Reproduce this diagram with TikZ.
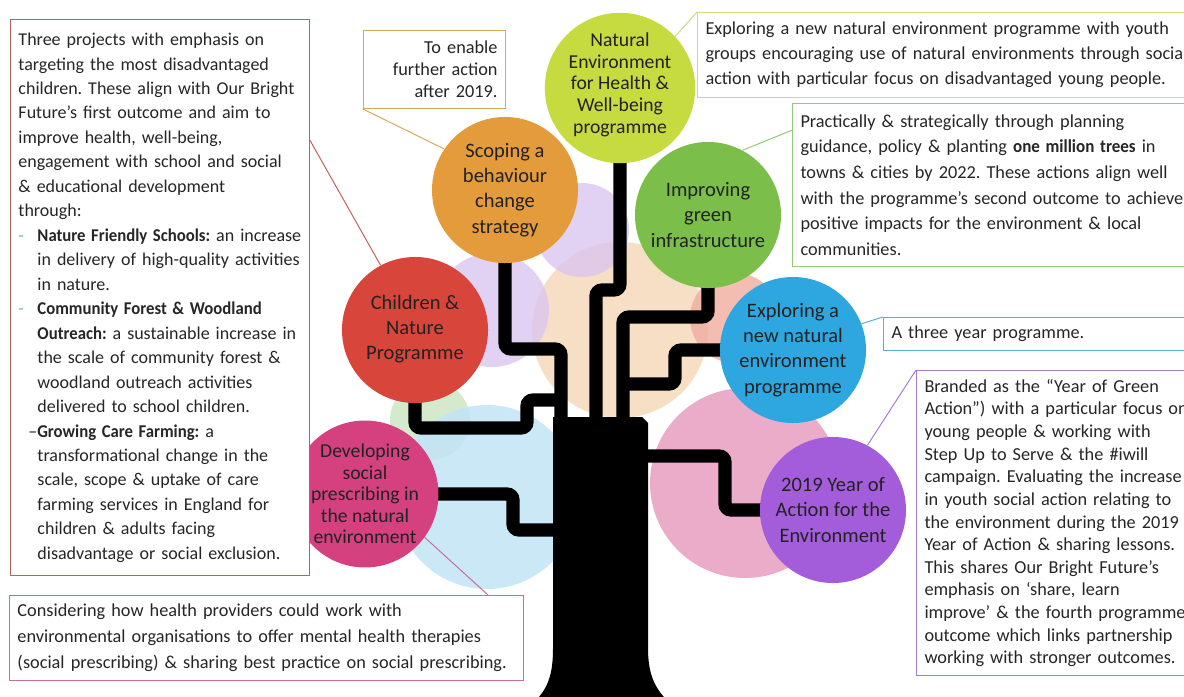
\documentclass[tikz,border=0pt]{standalone}
\usepackage{fontspec}
\setmainfont{Carlito}
\usepackage{xcolor}
\usepackage{graphicx}
\usetikzlibrary{calc}
\frenchspacing

\definecolor{lime_fill}{HTML}{C5DB3F}
\definecolor{orange_fill}{HTML}{E49B3C}
\definecolor{green_fill}{HTML}{7BBF4A}
\definecolor{red_fill}{HTML}{D8453A}
\definecolor{blue_fill}{HTML}{2EA7E0}
\definecolor{magenta_fill}{HTML}{D5407F}
\definecolor{purple_fill}{HTML}{A35DDB}

\definecolor{peach_fill}{HTML}{F6DCBF}
\definecolor{lavender_fill}{HTML}{DAC5EF}
\definecolor{salmon_fill}{HTML}{F0AE9E}
\definecolor{pink_fill}{HTML}{E9A3C4}
\definecolor{sky_fill}{HTML}{C2E4F6}
\definecolor{mint_fill}{HTML}{D0E8C8}

\definecolor{left_line}{HTML}{B8625E}
\definecolor{enable_line}{HTML}{D9A45B}
\definecolor{youth_line}{HTML}{C8DC84}
\definecolor{trees_line}{HTML}{94C978}
\definecolor{three_line}{HTML}{5AAFD2}
\definecolor{branded_line}{HTML}{A67BD3}
\definecolor{prescribing_line}{HTML}{C86B9E}
\definecolor{dash_teal}{HTML}{6FB7C9}
\definecolor{note_text}{HTML}{262626}
\definecolor{bubble_text}{HTML}{222222}

% bold terms, a little narrower
\newcommand{\keyterm}[1]{\textbf{\scalebox{0.93}[1]{#1}}}

\pgfdeclarelayer{back}
\pgfdeclarelayer{mid}
\pgfsetlayers{back,mid,main}

\begin{document}
\begin{tikzpicture}[x=0.025cm, y=-0.025cm,
    every node/.style={
        font=\fontsize{13pt}{17.4pt}\selectfont,
        text=note_text
    },
    bubble/.style={
        circle,
        minimum size=3.65cm,
        inner sep=0pt,
        align=center,
        text=bubble_text,
        font=\fontsize{14.6pt}{17.9pt}\selectfont
    },
    note/.style={
        rectangle,
        draw,
        fill=white,
        line width=0.7pt,
        anchor=north west,
        inner xsep=0.2cm,
        inner ysep=0pt,
        align=left
    },
    branch/.style={line width=0.33cm, rounded corners=0.15cm},
    leader/.style={line width=0.7pt}
]
    \useasboundingbox (0,0) rectangle (1184,697);
    \clip (0,0) rectangle (1184,697);

    % the coloured blobs behind the tree
    \begin{pgfonlayer}{back}
        \fill[peach_fill, fill opacity=0.9] (620,330) circle[radius=88];
        \fill[lavender_fill, fill opacity=0.8] (582,230) circle[radius=47];
        \fill[lavender_fill, fill opacity=0.8] (492,310) circle[radius=57];
        \fill[salmon_fill, fill opacity=0.8] (735,318) circle[radius=45];
        \fill[mint_fill, fill opacity=0.9] (430,420) circle[radius=40];
        \fill[sky_fill, fill opacity=0.85] (487,497) circle[radius=92];
        \fill[pink_fill, fill opacity=0.9] (745,483) circle[radius=95];
    \end{pgfonlayer}

    \node (nature_health) [bubble, fill=lime_fill, shift={(620,88)}, font=\fontsize{14pt}{15.4pt}\selectfont]
    {
        Natural\\Environment\\for Health \&\\Well-being\\programme\\[-8.2pt]
    };

    \node (behaviour_strategy) [bubble, fill=orange_fill, shift={(505,190)}]
    {
        Scoping a\\behaviour\\change\\strategy
    };

    \node (green_infra) [bubble, fill=green_fill, shift={(708,215)}]
    {
        Improving\\green\\infrastructure
    };

    \node (children_nature) [bubble, fill=red_fill, shift={(415,330)}]
    {
        Children \&\\Nature\\Programme\\[-13.7pt]
    };

    \node (new_programme) [bubble, fill=blue_fill, shift={(793,350)}]
    {
        Exploring a\\new natural\\environment\\programme
    };

    \node (social_prescribing) [bubble, fill=magenta_fill, shift={(365,494)}, font=\fontsize{14pt}{15.3pt}\selectfont]
    {
        Developing\\social\\prescribing in\\the natural\\environment
    };

    \node (year_of_action) [bubble, fill=purple_fill, shift={(833,510)}]
    {
        2019 Year of\\Action for the\\Environment
    };

    % tree: trunk and branches
    \begin{pgfonlayer}{mid}
        \fill (553,417) -- (553,648) .. controls (553,675) and (548,690) .. (531,705)
            -- (672,705) .. controls (655,690) and (648,675) .. (648,648)
            -- (648,423) -- (642,417) -- cycle;

        \draw[branch] (nature_health.center) |- (596,290) -- (596,425);
        \draw[branch] (green_infra.center) |- (623,317) -- (623,425);
        \draw[branch] (new_programme.center) -| (675,384) -- (623,384);
        \draw[branch] (behaviour_strategy.center) |- (561,349) -- (561,425);
        \draw[branch] (children_nature.center) |- (527,428) |- (561,400);
        \draw[branch] (social_prescribing.center) -| (513,530) -- (560,530);
        \draw[branch] (640,456) -| (725,510) -- (year_of_action.center);
    \end{pgfonlayer}

    \node (children_note) [note, draw=left_line, shift={(10,19)}, text width=7.075cm, minimum height=13.9cm, font=\fontsize{12.8pt}{17.4pt}\selectfont]
    {
        \begin{tabular}{@{}l@{}}
        Three projects with emphasis on\\
        targeting the most disadvantaged\\
        children. These align with Our Bright\\
        Future’s first outcome and aim to\\
        improve health, well-being,\\
        engagement with school and social\\
        \& educational development\\
        through:\\
        \makebox[13.5pt][l]{\textcolor{dash_teal}{-}}\keyterm{Nature Friendly Schools:} an increase\\
        \hspace*{13.5pt}in delivery of high-quality activities\\
        \hspace*{13.5pt}in nature.\\
        \makebox[13.5pt][l]{\textcolor{dash_teal}{-}}\keyterm{Community Forest \& Woodland}\\
        \hspace*{13.5pt}\keyterm{Outreach:} a sustainable increase in\\
        \hspace*{13.5pt}the scale of community forest \&\\
        \hspace*{13.5pt}woodland outreach activities\\
        \hspace*{13.5pt}delivered to school children.\\
        \hspace*{7pt}–\keyterm{Growing Care Farming:} a\\
        \hspace*{13.5pt}transformational change in the\\
        \hspace*{13.5pt}scale, scope \& uptake of care\\
        \hspace*{13.5pt}farming services in England for\\
        \hspace*{13.5pt}children \& adults facing\\
        \hspace*{13.5pt}disadvantage or social exclusion.
        \end{tabular}
    };

    \node (enable_note) [note, draw=enable_line, shift={(363,30)}, align=right, text width=3.15cm, inner xsep=0.2cm, minimum height=1.95cm, font=\fontsize{13pt}{15.6pt}\selectfont]
    {
        To enable\\further action\\after 2019.
    };

    \node (youth_note) [note, draw=youth_line, shift={(697,12)}, text width=13cm, minimum height=2.125cm, font=\fontsize{13pt}{17.8pt}\selectfont]
    {
        Exploring a new natural environment programme with youth\\
        groups encouraging use of natural environments through social\\
        action with particular focus on disadvantaged young people.
    };

    \node (trees_note) [note, draw=trees_line, shift={(792,103)}, text width=11cm, minimum height=4.075cm, font=\fontsize{13pt}{18.2pt}\selectfont]
    {
        Practically \& strategically through planning\\
        guidance, policy \& planting \keyterm{one million trees} in\\
        towns \& cities by 2022. These actions align well\\
        with the programme’s second outcome to achieve\\
        positive impacts for the environment \& local\\
        communities.
    };

    \node (three_year_note) [note, draw=three_line, shift={(883,317)}, text width=9cm, minimum height=0.825cm]
    {
        A three year programme.
    };

    \node (branded_note) [note, draw=branded_line, shift={(916,370)}, text width=8cm, minimum height=7.625cm, font=\fontsize{13pt}{16.1pt}\selectfont]
    {
        Branded as the “Year of Green\\
        Action”) with a particular focus on\\
        young people \& working with\\
        Step Up to Serve \& the \#iwill\\
        campaign. Evaluating the increase\\
        in youth social action relating to\\
        the environment during the 2019\\
        Year of Action \& sharing lessons.\\
        This shares Our Bright Future’s\\
        emphasis on ‘share, learn\\
        improve’ \& the fourth programme\\
        outcome which links partnership\\
        working with stronger outcomes.
    };

    \node (prescribing_note) [note, draw=prescribing_line, shift={(9,595)}, text width=12.45cm, minimum height=2.125cm, font=\fontsize{13pt}{18.5pt}\selectfont]
    {
        Considering how health providers could work with\\
        environmental organisations to offer mental health therapies\\
        (social prescribing) \& sharing best practice on social prescribing.
    };

    \draw[leader, left_line] ($(children_note.north east)!0.218!(children_note.south east)$) to (children_nature.118);
    \draw[leader, enable_line] (enable_note.south west) to (behaviour_strategy.146);
    \draw[leader, youth_line] (nature_health.43) to (youth_note.north west);
    \draw[leader, trees_line] (green_infra.62) to ($(trees_note.north west)!0.166!(trees_note.south west)$);
    \draw[leader, three_line] (new_programme.21) to (three_year_note.north west);
    \draw[leader, branded_line] (year_of_action.62) to (branded_note.north west);
    \draw[leader, prescribing_line] (social_prescribing.-36) to ($(prescribing_note.north west)!0.93!(prescribing_note.north east)$);
\end{tikzpicture}
\end{document}
